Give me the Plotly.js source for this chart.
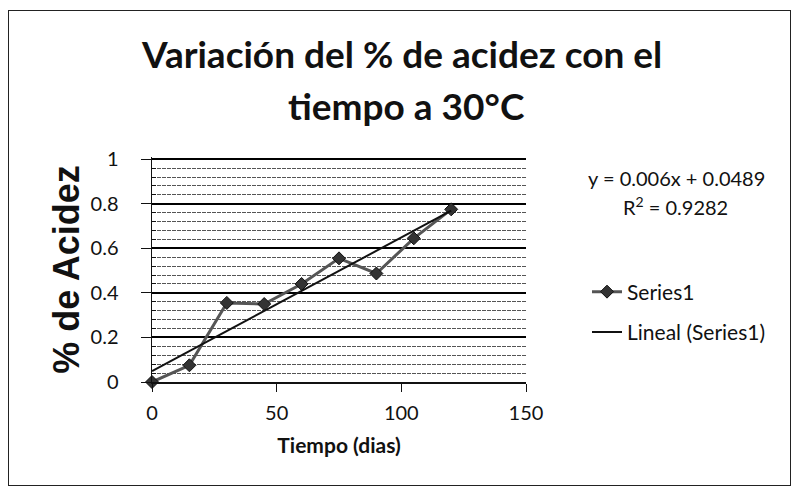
<!DOCTYPE html>
<html>
<head>
<meta charset="utf-8">
<script src="https://cdn.plot.ly/plotly-3.0.1.min.js"></script>
<style>
  html, body { margin: 0; padding: 0; background: #fff; }
  #chart { position: absolute; left: 0; top: 0; width: 794px; height: 488px; }
  #frame { position: absolute; left: 8px; top: 10px; width: 781px; height: 474px;
           border: 1px solid #222; pointer-events: none; }
</style>
</head>
<body>
<div id="chart"></div>
<div id="frame"></div>
<script>
// ---- data ----
const dias = [0, 15, 30, 45, 60, 75, 90, 105, 120];
const acidez = [0, 0.075, 0.355, 0.35, 0.44, 0.555, 0.487, 0.645, 0.775];
const pendiente = 0.006;
const intercepto = 0.0489;
const r2 = 0.9282;
const yTicks = [0, 0.2, 0.4, 0.6, 0.8, 1];
const xTicks = [0, 50, 100, 150];
const tituloLineas = ['Variación del % de acidez con el', 'tiempo a 30°C'];
const tituloX = 'Tiempo (dias)';
const tituloY = '% de Acidez';
const nombreSerie = 'Series1';
const nombreTendencia = 'Lineal (Series1)';

const tendenciaY = dias.map(d => pendiente * d + intercepto);

// minor gridlines: 4 subdivisions between each pair of major ticks
const minorY = [];
for (let i = 0; i < yTicks.length - 1; i++) {
  const step = (yTicks[i + 1] - yTicks[i]) / 5;
  for (let k = 1; k < 5; k++) minorY.push(+(yTicks[i] + k * step).toFixed(4));
}

const font = 'Lato, "Open Sans", sans-serif';

// plot-area pixel helpers (margins below)
const L = 152, R = 526, T = 157, B = 382;
const px = v => (v - L) / (R - L);
const py = v => (B - v) / (B - T);

const traces = [
  {
    x: dias, y: acidez, type: 'scatter', mode: 'lines+markers', name: nombreSerie,
    legendgroup: 'a',
    line: { color: '#555', width: 3 },
    marker: { symbol: 'diamond', size: 10, color: '#333', line: { color: '#111', width: 1 } },
    cliponaxis: false
  },
  {
    x: dias, y: tendenciaY, type: 'scatter', mode: 'lines', name: nombreTendencia,
    legendgroup: 'b',
    line: { color: '#111', width: 2 },
    cliponaxis: false
  }
];

const layout = {
  width: 794, height: 488,
  margin: { l: L, r: 794 - R, t: T, b: 488 - B },
  paper_bgcolor: '#fff', plot_bgcolor: '#fff',
  font: { family: font, color: '#111' },
  showlegend: true,
  xaxis: {
    range: [0, 150], tickvals: xTicks, ticktext: xTicks.map(String),
    showline: true, linecolor: '#111', linewidth: 1.5,
    ticks: 'outside', ticklen: 8, tickcolor: '#111',
    showgrid: false, zeroline: false,
    tickfont: { family: font, size: 20, color: '#111' },
    ticklabelstandoff: 4,
    title: { text: tituloX, font: { family: font, size: 21, color: '#111', weight: 'bold' }, standoff: 16 }
  },
  yaxis: {
    range: [0, 1.01], tickvals: yTicks, ticktext: yTicks.map(String),
    showline: true, linecolor: '#111', linewidth: 1.5,
    ticks: 'outside', ticklen: 10, tickcolor: '#111',
    showgrid: true, gridcolor: '#000', gridwidth: 2,
    zeroline: false,
    tickfont: { family: font, size: 20, color: '#111' },
    ticklabelstandoff: 18,
    minor: { tickvals: minorY, showgrid: true, gridcolor: '#555', griddash: '4px,1px', gridwidth: 1,
             ticks: 'inside', ticklen: 4, tickcolor: '#111' },
    title: { text: tituloY, font: { family: '"Liberation Sans", Arial, sans-serif', size: 36, color: '#111', weight: 'bold' }, standoff: 0 }
  },
  legend: {
    x: px(587), y: py(312), yanchor: 'middle', xanchor: 'left',
    font: { family: font, size: 21, color: '#111' },
    tracegroupgap: 10, bgcolor: 'rgba(0,0,0,0)'
  },
  annotations: [
    {
      text: tituloLineas[0], xref: 'paper', yref: 'paper', x: px(401), y: py(54),
      xanchor: 'center', yanchor: 'middle', showarrow: false,
      font: { family: font, size: 37, color: '#111', weight: 'bold' }
    },
    {
      text: tituloLineas[1], xref: 'paper', yref: 'paper', x: px(406), y: py(105),
      xanchor: 'center', yanchor: 'middle', showarrow: false,
      font: { family: font, size: 37, color: '#111', weight: 'bold' }
    },
    {
      text: 'y = ' + pendiente + 'x + ' + intercepto, xref: 'paper', yref: 'paper',
      x: px(676), y: py(178), xanchor: 'center', yanchor: 'middle', showarrow: false,
      font: { family: font, size: 20, color: '#111' }
    },
    {
      text: 'R<sup>2</sup> = ' + r2, xref: 'paper', yref: 'paper',
      x: px(675), y: py(206), xanchor: 'center', yanchor: 'middle', showarrow: false,
      font: { family: font, size: 20, color: '#111' }
    }
  ]
};

Plotly.newPlot('chart', traces, layout, { displayModeBar: false, staticPlot: true });
</script>
</body>
</html>
